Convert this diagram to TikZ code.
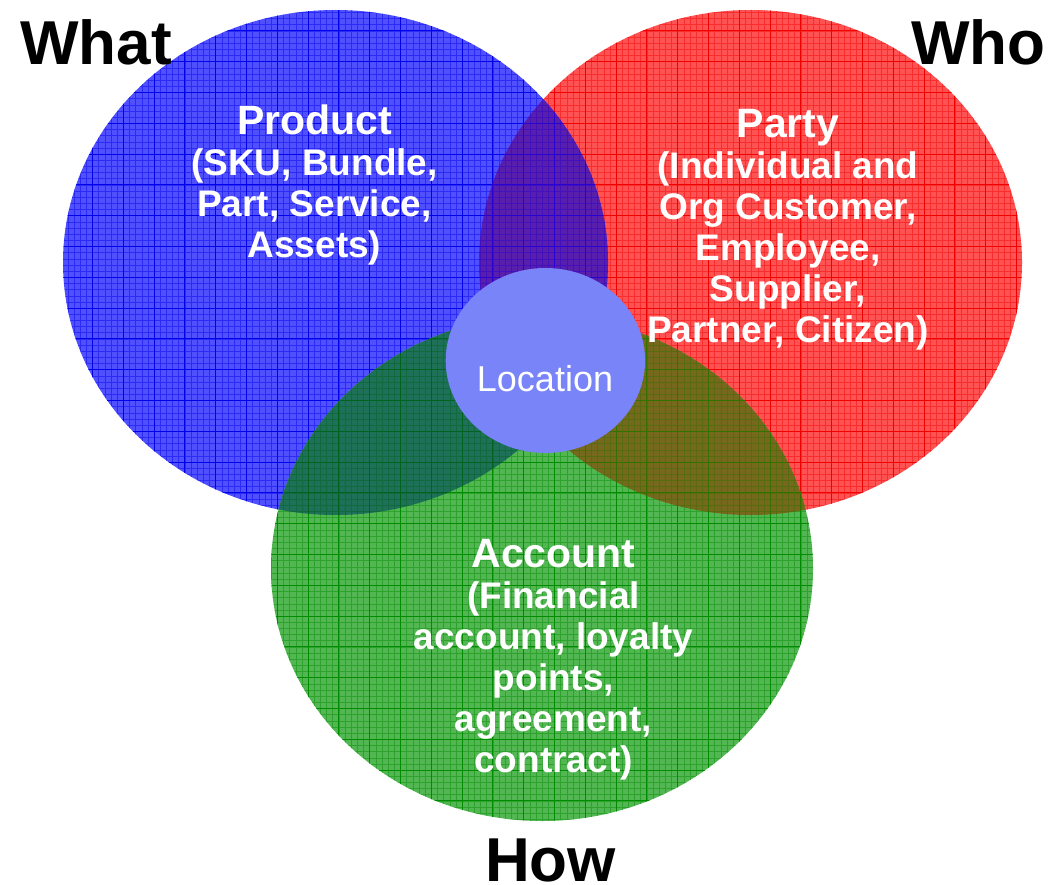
\documentclass[tikz,border=0pt]{standalone}
\usepackage{fontspec}
\setmainfont{Liberation Sans}
\usetikzlibrary{shapes.geometric}

\definecolor{bluefill}{RGB}{80,80,255}
\definecolor{blueline}{RGB}{0,0,235}
\definecolor{redfill}{RGB}{255,82,82}
\definecolor{redline}{RGB}{240,0,0}
\definecolor{greenfill}{RGB}{82,182,82}
\definecolor{greenline}{RGB}{0,140,0}
\definecolor{brfill}{RGB}{88,30,172}
\definecolor{brline}{RGB}{40,0,210}
\definecolor{bgfill}{RGB}{30,112,88}
\definecolor{bgline}{RGB}{0,100,30}
\definecolor{rgfill}{RGB}{118,104,28}
\definecolor{rgline}{RGB}{50,115,0}
\definecolor{allfill}{RGB}{55,60,70}
\definecolor{locfill}{RGB}{120,132,248}

% the three sets
\newcommand\setwhat{(335.5,262.5) ellipse [x radius=272.5pt, y radius=252.5pt]}
\newcommand\setwho{(750.5,262.5) ellipse [x radius=271.5pt, y radius=252.5pt]}
\newcommand\sethow{(542,568.5) ellipse [x radius=271pt, y radius=252.5pt]}

% graph-paper texture inside the current clip
\newcommand\meshlines[1]{%
  \draw[#1, line width=0.35pt, opacity=0.45, step=6.16pt] (0,885) grid (1057,0);
  \draw[#1, line width=0.9pt, step=30.8pt] (0,885) grid (1057,0);}

% multi-line blocks are placed by the baseline of their last line
\tikzset{
  body/.style={text=white, font=\fontsize{37}{41}\selectfont\bfseries,
    align=center, inner sep=0pt, anchor=base},
  corner/.style={font=\fontsize{62}{62}\selectfont\bfseries,
    inner sep=0pt, anchor=base west},
}

\begin{document}
\begin{tikzpicture}[x=1pt,y=-1pt]
\useasboundingbox (0,0) rectangle (1057,885);

% Who
\fill[redfill] \setwho;
\begin{scope}\clip \setwho; \meshlines{redline}\end{scope}

% What
\fill[bluefill] \setwhat;
\begin{scope}\clip \setwhat; \meshlines{blueline}\end{scope}

% What and Who
\begin{scope}
  \clip \setwhat; \clip \setwho;
  \fill[brfill] (0,0) rectangle (1057,885);
  \meshlines{brline}
\end{scope}

% How
\fill[greenfill] \sethow;
\begin{scope}\clip \sethow; \meshlines{greenline}\end{scope}

% How and What
\begin{scope}
  \clip \sethow; \clip \setwhat;
  \fill[bgfill] (0,0) rectangle (1057,885);
  \meshlines{bgline}
\end{scope}

% How and Who
\begin{scope}
  \clip \sethow; \clip \setwho;
  \fill[rgfill] (0,0) rectangle (1057,885);
  \meshlines{rgline}
\end{scope}

% all three
\begin{scope}
  \clip \sethow; \clip \setwhat; \clip \setwho;
  \fill[allfill] (0,0) rectangle (1057,885);
\end{scope}

% centre
\node[ellipse, fill=locfill, minimum width=199.4pt, minimum height=185pt,
  inner sep=0pt] (location) at (545.4,360.5) {};
\node[text=white, font=\fontsize{36}{36}\selectfont, anchor=base,
  inner sep=0pt] (loclabel) at (545,391.7) {Location};

% set contents
\node[body] (product) at (314.5,258)
  {{\fontsize{41}{41}\selectfont Product}\\(SKU, Bundle,\\Part, Service,\\Assets)};
\node[body] (party) at (788,342)
  {{\fontsize{41}{41}\selectfont Party}\\(Individual and\\Org Customer,\\Employee,\\Supplier,\\Partner, Citizen)};
\node[body] (account) at (553.5,772)
  {{\fontsize{41}{41}\selectfont Account}\\(Financial\\account, loyalty\\points,\\agreement,\\contract)};

% corner captions
\node[corner] (what) at (20,65) {What};
\node[corner] (who) at (911,65) {Who};
\node[corner] (how) at (485,881.7) {How};
\end{tikzpicture}
\end{document}
